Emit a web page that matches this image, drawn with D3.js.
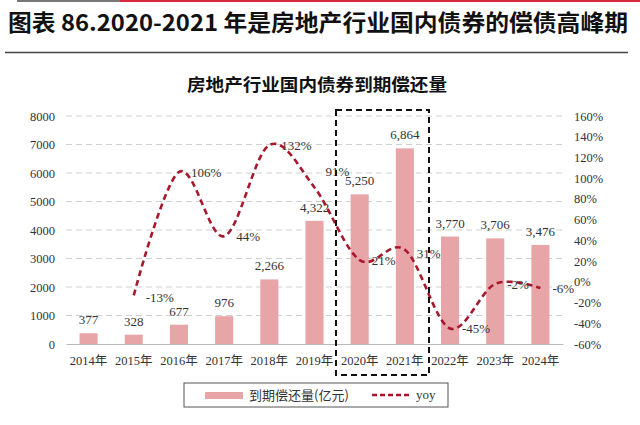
<!DOCTYPE html>
<html><head><meta charset="utf-8">
<script src="https://cdn.jsdelivr.net/npm/d3@7"></script>
<style>body{margin:0;background:#fff}svg{display:block}</style>
</head><body>
<svg id="c" width="640" height="425"></svg>
<script>
const years = ["2014年","2015年","2016年","2017年","2018年","2019年","2020年","2021年","2022年","2023年","2024年"];
const amounts = [377,328,677,976,2266,4322,5250,6864,3770,3706,3476];
const amountLabels = ["377","328","677","976","2,266","4,322","5,250","6,864","3,770","3,706","3,476"];
const yoy = [null,-13,106,44,132,91,21,31,-45,-2,-6];
const leftTicks = [0,1000,2000,3000,4000,5000,6000,7000,8000];
const rightTicks = [-60,-40,-20,0,20,40,60,80,100,120,140,160];

const svg = d3.select("#c");
const serif = "'Liberation Serif','Times New Roman','Noto Sans CJK SC',serif";
const cjk = "'Noto Sans CJK SC',sans-serif";

// top strip
svg.append("line").attr("x1",17).attr("x2",120).attr("y1",1).attr("y2",1).attr("stroke","#777").attr("stroke-width",2);
svg.append("line").attr("x1",120).attr("x2",640).attr("y1",1).attr("y2",1).attr("stroke","#d8283c").attr("stroke-width",2);
svg.append("text").attr("x",8).attr("y",31).attr("font-family",cjk).attr("font-weight","bold")
  .attr("font-size",22.5).attr("fill","#111").attr("textLength",620).attr("lengthAdjust","spacingAndGlyphs")
  .text("图表 86.2020-2021 年是房地产行业国内债券的偿债高峰期");
svg.append("line").attr("x1",5).attr("x2",628).attr("y1",52.5).attr("y2",52.5).attr("stroke","#444").attr("stroke-width",1.5);

svg.append("text").attr("x",187).attr("y",91).attr("font-family",cjk)
  .attr("font-weight","bold").attr("font-size",17).attr("fill","#111")
  .attr("textLength",260).attr("lengthAdjust","spacingAndGlyphs").text("房地产行业国内债券到期偿还量");

const x = d3.scaleBand().domain(years).range([66,563]).paddingInner(0.6).paddingOuter(0.3);
const xc = d => x(d) + x.bandwidth()/2;
const y = d3.scaleLinear().domain([0,8000]).range([344,116]);
const y2 = d3.scaleLinear().domain([-60,160]).range([344,116]);

// grid
svg.append("g").selectAll("line").data(leftTicks.filter(t=>t>0)).join("line")
  .attr("x1",66).attr("x2",563).attr("y1",d=>y(d)).attr("y2",d=>y(d))
  .attr("stroke","#d0d0d0").attr("stroke-dasharray","6,4").attr("stroke-width",1);

// axes
const gl = svg.append("g").attr("transform","translate(66,0)")
  .call(d3.axisLeft(y).tickValues(leftTicks).tickSize(0).tickPadding(11).tickFormat(d3.format("d")));
gl.select(".domain").remove();
gl.selectAll("text").attr("font-family",serif).attr("font-size",12.5).attr("fill","#333");

const gr = svg.append("g").attr("transform","translate(563,0)")
  .call(d3.axisRight(y2).tickValues(rightTicks).tickSize(0).tickPadding(11).tickFormat(d=>d+"%"));
gr.select(".domain").remove();
gr.selectAll("text").attr("font-family",serif).attr("font-size",12.5).attr("fill","#333");

const gb = svg.append("g").attr("transform","translate(0,344)")
  .call(d3.axisBottom(x).tickSize(0).tickPadding(12));
gb.select(".domain").attr("stroke","#bbb");
gb.selectAll("text").attr("font-family",serif).attr("font-size",12.5).attr("fill","#333");

// bars
svg.append("g").selectAll("rect").data(amounts).join("rect")
  .attr("x",(d,i)=>x(years[i])).attr("width",x.bandwidth())
  .attr("y",d=>y(d)).attr("height",d=>y(0)-y(d)).attr("fill","#e8a5a7");
svg.append("g").selectAll("text").data(amounts).join("text")
  .attr("x",(d,i)=>xc(years[i])).attr("y",d=>y(d)-9).attr("text-anchor","middle")
  .attr("font-family",serif).attr("font-size",13).attr("fill","#333")
  .text((d,i)=>amountLabels[i]);

// yoy line
const pts = yoy.map((v,i)=>v==null?null:[xc(years[i]),y2(v)]).filter(p=>p);
svg.append("path").attr("d",d3.line().curve(d3.curveCardinal.tension(0))(pts))
  .attr("fill","none").attr("stroke","#a8182c").attr("stroke-width",2.6).attr("stroke-dasharray","6,4");

const nudge = {1:[12,2],5:[11,-17],7:[12,3]};
svg.append("g").selectAll("text").data(yoy.map((v,i)=>({v,i})).filter(d=>d.v!=null)).join("text")
  .attr("x",d=>xc(years[d.i])+(nudge[d.i]?nudge[d.i][0]:12))
  .attr("y",d=>y2(d.v)+5+(nudge[d.i]?nudge[d.i][1]:0))
  .attr("font-family",serif).attr("font-size",13).attr("fill","#333")
  .text(d=>d.v+"%");

// highlight box
svg.append("rect").attr("x",336).attr("y",110).attr("width",93).attr("height",265)
  .attr("fill","none").attr("stroke","#111").attr("stroke-width",2).attr("stroke-dasharray","6,4");

// legend
svg.append("rect").attr("x",184).attr("y",383).attr("width",264).attr("height",24)
  .attr("fill","#fff").attr("stroke","#555").attr("stroke-width",1);
svg.append("rect").attr("x",205).attr("y",392).attr("width",38).attr("height",7).attr("fill","#e8a5a7");
svg.append("text").attr("x",249).attr("y",400).attr("font-family",cjk).attr("font-size",13).attr("fill","#333").text("到期偿还量(亿元)");
svg.append("line").attr("x1",372).attr("x2",412).attr("y1",395).attr("y2",395)
  .attr("stroke","#a8182c").attr("stroke-width",2.4).attr("stroke-dasharray","5,3");
svg.append("text").attr("x",416).attr("y",399).attr("font-family",serif).attr("font-size",13).attr("fill","#333").text("yoy");
</script>
</body></html>
